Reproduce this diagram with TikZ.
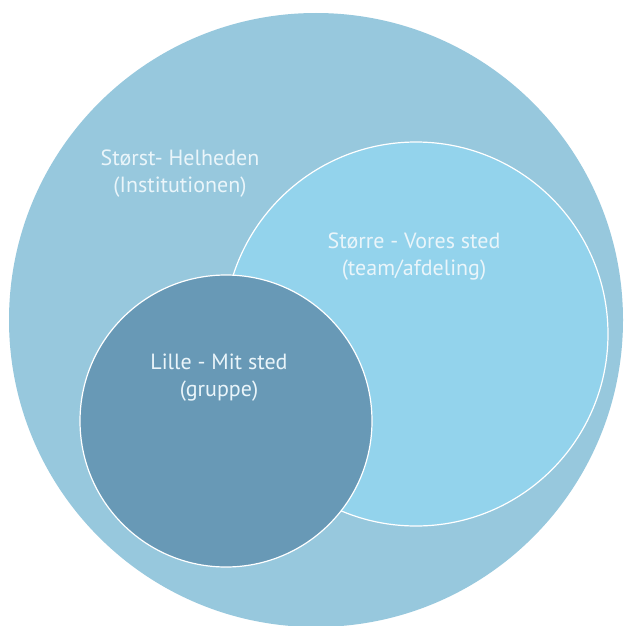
\documentclass[tikz,border=0pt]{standalone}
\usepackage{fontspec}
\setmainfont{PT Sans}
\definecolor{bigc}{HTML}{97C8DD}
\definecolor{midc}{HTML}{93D3EC}
\definecolor{smallc}{HTML}{6899B6}
\definecolor{txt}{HTML}{EAF5FA}
\begin{document}
\begin{tikzpicture}[x=1pt,y=-1pt,
  disc/.style={circle, inner sep=0pt, outer sep=0pt},
  lbl/.style={align=center, text=txt, font=\fontsize{22}{27}\selectfont, inner sep=0pt}]
\useasboundingbox (0,0) rectangle (624,626);
\fill[white] (0,0) rectangle (624,626);
\node[disc, fill=bigc, minimum size=614pt] (big) at (316,320) {};
\node[disc, fill=midc, draw=white, line width=1.2pt, minimum size=384pt] (mid) at (416,334) {};
\node[disc, fill=smallc, draw=white, line width=1.2pt, minimum size=292pt] (small) at (226,421) {};
\node[lbl] (tbig) at (180,174) {Størst- Helheden\\(Institutionen)};
\node[lbl] (tmid) at (414,257) {Større - Vores sted\\(team/afdeling)};
\node[lbl] (tsmall) at (219,378) {Lille - Mit sted\\(gruppe)};
\end{tikzpicture}
\end{document}
